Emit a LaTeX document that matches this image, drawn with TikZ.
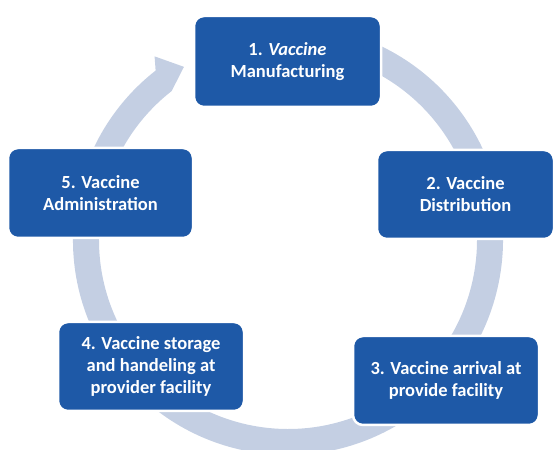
\documentclass[tikz,border=0pt]{standalone}
\usepackage{fontspec}
\setmainfont{Carlito}
\usetikzlibrary{calc}
\definecolor{boxblue}{RGB}{30,89,167}
\definecolor{ringblue}{RGB}{196,207,227}
\begin{document}
\begin{tikzpicture}[x=1pt,y=1pt,
  stage/.style={rectangle, rounded corners=10pt, fill=boxblue, draw=white,
    line width=2.5pt, text=white, align=center, inner sep=0pt, outer sep=0pt,
    font=\fontsize{18.5}{22}\selectfont\bfseries}]
\useasboundingbox (0,0) rectangle (555,450);
\coordinate (C) at (288,210);
% circular arrow running clockwise behind the stages
\fill[ringblue] ($(C)+(80:215)$) arc[start angle=80, end angle=-232, radius=215]
  -- ($(C)+(126:227)$) -- ($(C)+(121:202)$) -- ($(C)+(128:189)$)
  arc[start angle=-232, end angle=80, radius=189] -- cycle;
% stages
\node[stage, minimum width=187pt, minimum height=91pt] (s1) at (287.5,388.5)
  {1. \textit{Vaccine}\\Manufacturing};
\node[stage, minimum width=177pt, minimum height=89pt] (s2) at (465.5,255.5)
  {2. Vaccine\\Distribution};
\node[stage, minimum width=186pt, minimum height=89pt] (s3) at (446,69.5)
  {3. Vaccine arrival at\\provide facility};
\node[stage, minimum width=186pt, minimum height=89pt] (s4) at (151,83.5)
  {4. Vaccine storage\\and handeling at\\provider facility};
\node[stage, minimum width=185pt, minimum height=90pt] (s5) at (100.5,257)
  {5. Vaccine\\Administration};
\end{tikzpicture}
\end{document}
